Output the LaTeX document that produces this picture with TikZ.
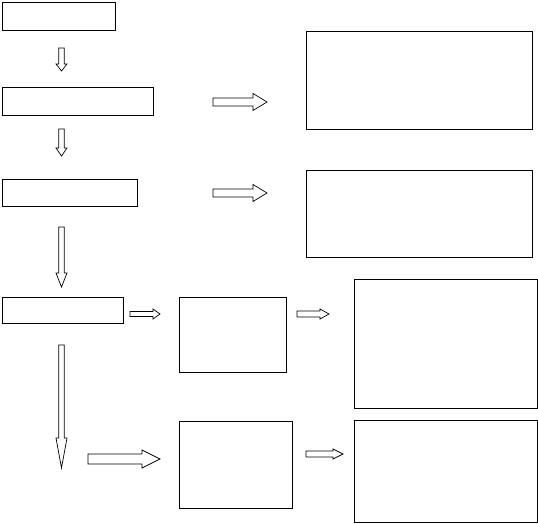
\documentclass[tikz,border=0pt]{standalone}
\tikzset{blank/.style={draw, line width=0.8pt, inner sep=0pt}}
% hollow block arrows: centre, start, shaft end, tip, shaft half width, head half width
\newcommand{\downarr}[6]{\draw[line width=0.7pt] (#1-#5,#2) -- (#1+#5,#2) -- (#1+#5,#3) -- (#1+#6,#3) -- (#1,#4) -- (#1-#6,#3) -- (#1-#5,#3) -- cycle;}
\newcommand{\rightarr}[6]{\draw[line width=0.7pt] (#2,#1-#5) -- (#2,#1+#5) -- (#3,#1+#5) -- (#3,#1+#6) -- (#4,#1) -- (#3,#1-#6) -- (#3,#1-#5) -- cycle;}
\begin{document}
\begin{tikzpicture}[x=1pt, y=-1pt]
\useasboundingbox (0,0) rectangle (538,524);
% left column
\node[blank, minimum width=113pt, minimum height=28pt] (s1) at (58.5,16) {};
\node[blank, minimum width=151pt, minimum height=28pt] (s2) at (77.5,101) {};
\node[blank, minimum width=135pt, minimum height=27pt] (s3) at (69.5,192.5) {};
\node[blank, minimum width=121pt, minimum height=26pt] (s4) at (62.5,310) {};
% right boxes
\node[blank, minimum width=226pt, minimum height=98pt] (r1) at (419,80) {};
\node[blank, minimum width=226pt, minimum height=87pt] (r2) at (419,213.5) {};
\node[blank, minimum width=107pt, minimum height=75pt] (m1) at (232.5,334.5) {};
\node[blank, minimum width=113pt, minimum height=87pt] (m2) at (235.5,464.5) {};
\node[blank, minimum width=183pt, minimum height=129pt] (f1) at (445.5,343.5) {};
\node[blank, minimum width=183pt, minimum height=102pt] (f2) at (445.5,471) {};
% arrows
\downarr{61.5}{48}{64}{71}{2.7}{5.5}
\downarr{61.5}{129}{148}{156}{2.7}{5.5}
\downarr{61.5}{227}{273}{287}{2.7}{5.5}
\downarr{61.5}{345}{438}{468}{2.7}{5.5}
\rightarr{102}{213}{253}{267}{4}{8.5}
\rightarr{193}{213}{253}{267}{4}{8.5}
\rightarr{314}{130}{153}{160}{2.5}{5}
\rightarr{314}{297}{320}{329}{3}{5}
\rightarr{454}{306}{333}{343}{3}{5}
\rightarr{459}{88}{142}{160}{5}{9}
\end{tikzpicture}
\end{document}
